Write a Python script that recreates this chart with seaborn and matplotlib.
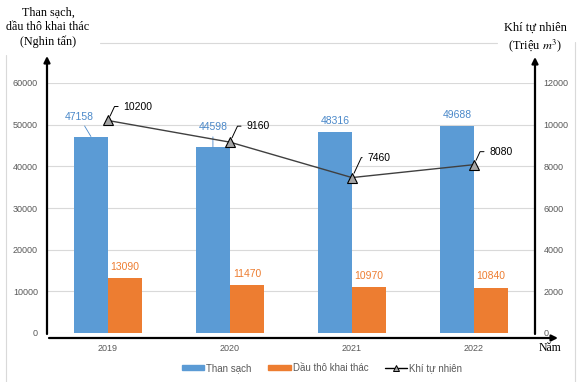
import numpy as np
import pandas as pd
import matplotlib
matplotlib.use("Agg")
import matplotlib.pyplot as plt
from matplotlib.lines import Line2D
import seaborn as sns

# ---- data ----
years = ["2019", "2020", "2021", "2022"]
than_sach = [47158, 44598, 48316, 49688]
dau_tho = [13090, 11470, 10970, 10840]
khi_tu_nhien = [10200, 9160, 7460, 8080]
series_names = ["Than sạch", "Dầu thô khai thác", "Khí tự nhiên"]
left_ticks = [0, 10000, 20000, 30000, 40000, 50000, 60000]
right_ticks = [0, 2000, 4000, 6000, 8000, 10000, 12000]

sns.set_theme(style="white")
plt.rcParams["font.family"] = ["Liberation Sans", "DejaVu Sans"]
plt.rcParams["mathtext.fontset"] = "stix"

W, H = 580, 382
fig = plt.figure(figsize=(W / 100, H / 100), dpi=100)
fig.patch.set_facecolor("white")

def fx(x):
    return x / W

def fy(y):
    return 1 - y / H

ax = fig.add_axes([fx(47), fy(333), (535 - 47) / W, (333 - 83) / H])
ax.set_facecolor("none")

BLUE = "#5B9BD5"
ORANGE = "#ED7D31"
BLUE_TXT = "#4A88C9"
GREY_TXT = "#595959"

df = pd.DataFrame({
    "Năm": years * 2,
    "value": than_sach + dau_tho,
    "series": [series_names[0]] * len(years) + [series_names[1]] * len(years),
})

sns.barplot(data=df, x="Năm", y="value", hue="series",
            hue_order=series_names[:2], palette=[BLUE, ORANGE],
            width=0.56, saturation=1, linewidth=0, ax=ax, legend=False,
            errorbar=None)

ax.set_xlim(-0.5, 3.5)
ax.set_ylim(0, 60000)
ax.set_yticks(left_ticks)
ax.set_yticklabels([str(t) for t in left_ticks])
ax.yaxis.grid(True, color="#D9D9D9", lw=0.8)
ax.set_axisbelow(True)
ax.tick_params(axis="y", length=0, pad=6.5, labelsize=6.5, labelcolor=GREY_TXT)
ax.tick_params(axis="x", length=0, pad=8, labelsize=6.5, labelcolor=GREY_TXT)
ax.set_xlabel("")
ax.set_ylabel("")
for s in ax.spines.values():
    s.set_visible(False)

ax2 = ax.twinx()
sns.lineplot(x=np.arange(len(years)), y=khi_tu_nhien, ax=ax2, color="#404040",
             lw=1, marker="^", markersize=6.5, markerfacecolor="#A5A5A5",
             markeredgecolor="black", markeredgewidth=0.8,
             label=series_names[2], legend=False)
ax2.set_ylim(0, 12000)
ax2.set_yticks(right_ticks)
ax2.set_yticklabels([str(t) for t in right_ticks])
ax2.tick_params(axis="y", length=0, pad=6, labelsize=6.5, labelcolor=GREY_TXT)
ax2.set_ylabel("")
for s in ax2.spines.values():
    s.set_visible(False)

# ---- bar labels ----
blue_offsets = [(-12, 20), (0, 20), (0, 11), (0, 11)]
for bar, v, off in zip(ax.containers[0], than_sach, blue_offsets):
    xc = bar.get_x() + bar.get_width() / 2
    lead = off[1] > 15
    ax.annotate(str(v), xy=(xc, bar.get_height()), xytext=off,
                textcoords="offset pixels", ha="center", va="center",
                fontsize=7.5, color=BLUE_TXT,
                arrowprops=dict(arrowstyle="-", color=BLUE_TXT, lw=0.6,
                                shrinkA=1, shrinkB=0) if lead else None)
for bar, v in zip(ax.containers[1], dau_tho):
    xc = bar.get_x() + bar.get_width() / 2
    ax.annotate(str(v), xy=(xc, bar.get_height()), xytext=(0, 11.5),
                textcoords="offset pixels", ha="center", va="center",
                fontsize=7.5, color=ORANGE)

# ---- line labels ----
gas_offsets = [(30, 14), (28, 16), (27, 20), (27, 13)]
for i, (v, off) in enumerate(zip(khi_tu_nhien, gas_offsets)):
    ax2.annotate(str(v), xy=(i, v), xytext=off, textcoords="offset pixels",
                 ha="center", va="center", fontsize=7.5, color="black",
                 arrowprops=dict(arrowstyle="-", color="black", lw=0.7,
                                 relpos=(0, 0.5), shrinkA=1.5, shrinkB=3.5,
                                 connectionstyle="angle,angleA=0,angleB=65,rad=0"))

# ---- axis arrows ----
ap = dict(arrowstyle="-|>", color="black", lw=1.6, mutation_scale=9,
          shrinkA=0, shrinkB=0)
fig.add_artist(matplotlib.patches.FancyArrowPatch(
    (fx(47), fy(334)), (fx(47), fy(56)), transform=fig.transFigure, **ap))
fig.add_artist(matplotlib.patches.FancyArrowPatch(
    (fx(535), fy(334)), (fx(535), fy(57)), transform=fig.transFigure, **ap))
fig.add_artist(matplotlib.patches.FancyArrowPatch(
    (fx(49), fy(338)), (fx(558), fy(338)), transform=fig.transFigure, **ap))

# ---- chart border ----
bc = "#D9D9D9"
for (x0, y0, x1, y1) in [(100, 43, 497, 43), (6, 55, 6, 382), (575, 42, 575, 382)]:
    fig.add_artist(Line2D([fx(x0), fx(x1)], [fy(y0), fy(y1)],
                          transform=fig.transFigure, color=bc, lw=0.8))

# ---- titles ----
serif = ["Liberation Serif", "DejaVu Serif"]
fig.text(fx(48), fy(27), "Than sạch,\ndầu thô khai thác\n(Nghin tấn)",
         ha="center", va="center", fontsize=8.7, family=serif,
         linespacing=1.25, color="black")
fig.text(fx(535), fy(38), "Khí tự nhiên\n(Triệu $m^3$)",
         ha="center", va="center", fontsize=8.9, family=serif,
         linespacing=1.3, color="black")
fig.text(fx(550), fy(348), "Năm", ha="center", va="center", fontsize=8.5,
         family=serif, color="black")

# ---- legend ----
handles = [matplotlib.patches.Patch(color=BLUE), matplotlib.patches.Patch(color=ORANGE),
           Line2D([0], [0], color="black", lw=1, marker="^", markersize=5,
                  markerfacecolor="#A5A5A5", markeredgecolor="black", markeredgewidth=0.7)]
fig.legend(handles, series_names, loc="center", bbox_to_anchor=(fx(322), fy(368)),
           ncol=3, frameon=False, fontsize=7, handlelength=2.3, handleheight=0.5,
           handletextpad=0.2, columnspacing=1.7, labelcolor=GREY_TXT)

fig.savefig("out.png", dpi=100)
